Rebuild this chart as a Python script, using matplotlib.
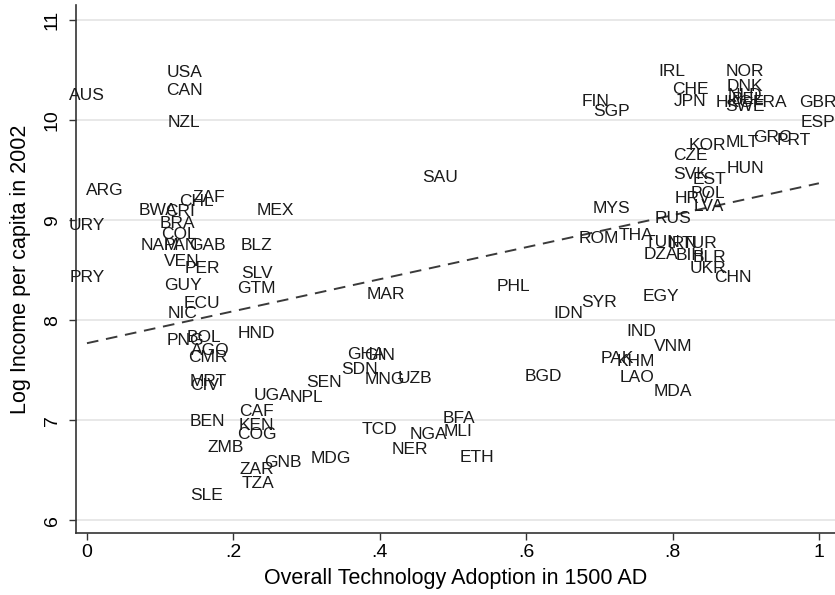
import numpy as np
import matplotlib
matplotlib.use('Agg')
import matplotlib.pyplot as plt

# country codes, technology adoption in 1500 AD, log income per capita 2002
codes = ['AUS', 'USA', 'CAN', 'NZL', 'ARG', 'URY', 'BWA', 'CRI', 'CHL', 'ZAF',
         'MEX', 'BRA', 'COL', 'NAM', 'PAN', 'GAB', 'BLZ', 'VEN', 'PER', 'PRY',
         'SLV', 'GUY', 'GTM', 'ECU', 'NIC', 'HND', 'PNG', 'BOL', 'AGO', 'CMR',
         'MRT', 'CIV', 'BEN', 'UGA', 'NPL', 'SEN', 'CAF', 'KEN', 'COG', 'ZMB',
         'ZAR', 'GNB', 'TZA', 'SLE', 'MDG', 'TCD', 'NER', 'NGA', 'MLI', 'BFA',
         'ETH', 'GHA', 'GIN', 'SDN', 'MNG', 'UZB', 'MAR', 'SAU', 'PHL', 'IDN',
         'BGD', 'SYR', 'EGY', 'IND', 'VNM', 'PAK', 'KHM', 'LAO', 'MDA', 'MYS',
         'RUS', 'ROM', 'THA', 'TUN', 'IRN', 'TUR', 'DZA', 'BIH', 'BLR', 'UKR',
         'CHN', 'FIN', 'SGP', 'IRL', 'CHE', 'JPN', 'NOR', 'DNK', 'HKG', 'NLD',
         'BEL', 'SWE', 'FRA', 'GBR', 'ESP', 'PRT', 'GRC', 'MLT', 'KOR', 'CZE',
         'HUN', 'SVK', 'EST', 'HRV', 'POL', 'LVA']
tech = [0.0, 0.133, 0.133, 0.133, 0.024, 0.0, 0.097, 0.127, 0.149, 0.167,
        0.257, 0.124, 0.126, 0.100, 0.128, 0.164, 0.232, 0.130, 0.158, 0.0,
        0.232, 0.131, 0.232, 0.157, 0.131, 0.232, 0.135, 0.160, 0.168, 0.165,
        0.165, 0.161, 0.165, 0.254, 0.300, 0.324, 0.232, 0.232, 0.232, 0.190,
        0.232, 0.268, 0.234, 0.164, 0.333, 0.400, 0.441, 0.466, 0.507, 0.508,
        0.533, 0.381, 0.400, 0.373, 0.407, 0.448, 0.408, 0.482, 0.582, 0.657,
        0.623, 0.699, 0.784, 0.758, 0.801, 0.724, 0.750, 0.751, 0.801, 0.717,
        0.801, 0.699, 0.750, 0.787, 0.814, 0.837, 0.784, 0.824, 0.850, 0.848,
        0.883, 0.695, 0.717, 0.799, 0.824, 0.824, 0.899, 0.899, 0.885, 0.899,
        0.903, 0.899, 0.933, 0.999, 0.999, 0.966, 0.936, 0.896, 0.848, 0.824,
        0.899, 0.824, 0.851, 0.827, 0.848, 0.850]
income = [10.25, 10.48, 10.30, 9.98, 9.30, 8.95, 9.10, 9.09, 9.19, 9.23,
          9.10, 8.97, 8.86, 8.75, 8.75, 8.75, 8.75, 8.59, 8.52, 8.43,
          8.47, 8.35, 8.32, 8.17, 8.07, 7.87, 7.80, 7.83, 7.70, 7.63,
          7.39, 7.35, 6.99, 7.25, 7.23, 7.38, 7.09, 6.95, 6.86, 6.73,
          6.51, 6.58, 6.37, 6.25, 6.62, 6.91, 6.71, 6.86, 6.89, 7.02,
          6.63, 7.66, 7.65, 7.51, 7.41, 7.42, 8.26, 9.43, 8.34, 8.07,
          7.44, 8.18, 8.24, 7.89, 7.74, 7.62, 7.59, 7.43, 7.29, 9.12,
          9.02, 8.82, 8.85, 8.78, 8.77, 8.77, 8.66, 8.65, 8.63, 8.52,
          8.43, 10.19, 10.09, 10.49, 10.31, 10.19, 10.49, 10.34, 10.18, 10.25,
          10.21, 10.14, 10.18, 10.18, 9.98, 9.80, 9.83, 9.78, 9.75, 9.65,
          9.52, 9.46, 9.41, 9.22, 9.27, 9.14]

# fitted line
fit_x = [0.0, 1.0]
fit_a = 7.77
fit_b = 1.60

xticks = [0, 0.2, 0.4, 0.6, 0.8, 1.0]
xticklabels = ['0', '.2', '.4', '.6', '.8', '1']
yticks = [6, 7, 8, 9, 10, 11]

fnt = ['Liberation Sans', 'DejaVu Sans']

fig = plt.figure(figsize=(8.35, 5.95), dpi=100)
ax = fig.add_axes([0.091, 0.104, 0.909, 0.887])

for c, x, y in zip(codes, tech, income):
    ax.text(x, y, c, ha='center', va='center', fontsize=12.5,
            family=fnt, color='#1a1a1a', clip_on=False)

fx = np.array(fit_x)
ax.plot(fx, fit_a + fit_b * fx, color='#3a3a3a', linestyle=(0, (6, 4)), linewidth=1.4)

ax.set_xlim(-0.015, 1.022)
ax.set_ylim(5.87, 11.15)
ax.set_xticks(xticks)
ax.set_xticklabels(xticklabels, family=fnt, fontsize=14)
ax.set_yticks(yticks)
ax.set_yticklabels([str(v) for v in yticks], family=fnt, fontsize=14,
                   rotation=90, va='center')
ax.grid(axis='y', color='#e4e4e4', linewidth=1.2)
ax.set_axisbelow(True)
ax.tick_params(direction='out', length=5, width=1, color='#333333', pad=3)
ax.tick_params(axis='y', pad=6)
for s in ['top', 'right']:
    ax.spines[s].set_visible(False)
for s in ['left', 'bottom']:
    ax.spines[s].set_color('#333333')
    ax.spines[s].set_linewidth(1.2)

ax.set_xlabel('Overall Technology Adoption in 1500 AD', family=fnt, fontsize=15.5, labelpad=5)
ax.set_ylabel('Log Income per capita in 2002', family=fnt, fontsize=15.5, labelpad=9)

fig.savefig('out.png', dpi=100)
